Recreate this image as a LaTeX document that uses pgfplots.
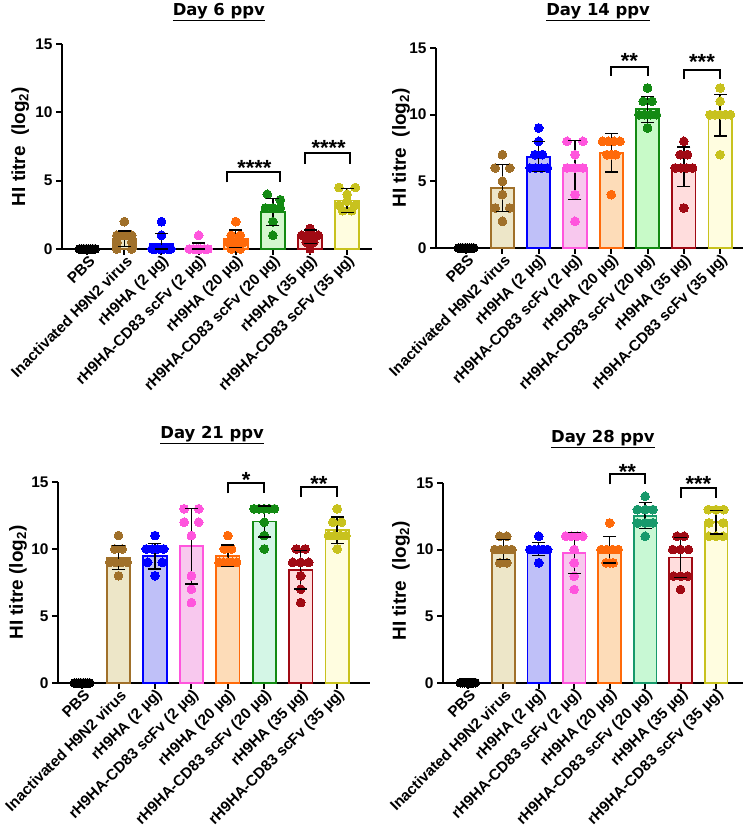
\documentclass[border=0pt]{standalone}
\usepackage{fontspec}
\setmainfont{Liberation Sans}
\newfontfamily\titlefont{DejaVu Sans}
\usepackage{pgfplots}
\pgfplotsset{compat=1.18}

\definecolor{brownE}{HTML}{A0702A}\definecolor{brownF}{HTML}{EDE6C8}
\definecolor{blueE}{HTML}{0000FF}\definecolor{blueF}{HTML}{BFC0F8}
\definecolor{pinkE}{HTML}{FF55DD}\definecolor{pinkF}{HTML}{F8C8EE}
\definecolor{orangeE}{HTML}{FF6A0A}\definecolor{orangeF}{HTML}{FDDCB8}
\definecolor{greenE}{HTML}{138A13}\definecolor{greenF}{HTML}{D4F8CE}
\definecolor{greenFb}{HTML}{C8FAC8}\definecolor{greenFc}{HTML}{D4F6E6}
\definecolor{tealE}{HTML}{17996B}\definecolor{tealF}{HTML}{C8F8D4}
\definecolor{redE}{HTML}{A00A14}\definecolor{redF}{HTML}{FFDDDD}
\definecolor{yellowE}{HTML}{C8C21E}\definecolor{yellowF}{HTML}{FFFDE0}

\newcommand{\lab}{\bfseries\fontsize{15.3}{15.3}\selectfont}
\newcommand{\tickf}{\bfseries\fontsize{15.5}{15.5}\selectfont}
\newcommand{\ylab}{\bfseries\fontsize{19}{19}\selectfont}
\newcommand{\ttl}{\titlefont\bfseries\fontsize{16.5}{16.5}\selectfont}
\newcommand{\astf}{\bfseries\fontsize{22}{22}\selectfont}

% group: x, mean, error low, error high, edge colour, fill colour, points (offset value rows)
\newcommand{\grp}[7]{%
  \addplot[ybar, bar width=0.64, bar shift=0pt, draw=#5, fill=#6, line width=1.8bp, forget plot] coordinates {(#1,#2)};
  \addplot[only marks, mark=*, mark size=4.4bp, mark options={draw=#5, fill=#5, line width=0pt}, forget plot]
    table[x expr=\thisrow{d}+#1, y=v, row sep=\\] {d v\\ #7};
  \addplot[black, line width=1.4bp, mark=none, forget plot] coordinates {(#1,#3) (#1,#4)};
  \addplot[only marks, mark=-, mark size=6.5bp, mark options={black, line width=1.4bp}, forget plot] coordinates {(#1,#3) (#1,#4)};
}
\newcommand{\pbs}{%
  \addplot[only marks, mark=*, mark size=4.4bp, mark options={draw=black, fill=black, line width=0pt}, forget plot]
    table[row sep=\\] {x y\\ -0.21 0\\ -0.15 0\\ -0.09 0\\ -0.03 0\\ 0.03 0\\ 0.09 0\\ 0.15 0\\ 0.21 0\\};
}

\pgfplotsset{
  hiaxis/.style={
    scale only axis, clip=false,
    axis x line=bottom, axis y line=left,
    axis line style={line width=2bp, -},
    ymin=0, ymax=15, ytick={0,5,10,15},
    xtick={0,...,7},
    xticklabels={{PBS},{Inactivated H9N2 virus},{rH9HA (2 µg)},{rH9HA-CD83 scFv (2 µg)},{rH9HA (20 µg)},{rH9HA-CD83 scFv (20 µg)},{rH9HA (35 µg)},{rH9HA-CD83 scFv (35 µg)}},
    tick align=outside, major tick length=6bp,
    tick style={line width=2bp, black},
    xticklabel style={rotate=45, anchor=east, font=\lab, inner sep=1bp, yshift=-6bp, xshift=2bp},
    yticklabel style={font=\tickf},
    /pgf/number format/assume math mode=true,
    ylabel style={anchor=center},
  }
}

\begin{document}
\begin{tikzpicture}
\path[use as bounding box] (0,0) rectangle (746bp,834bp);

% ---------------- Day 6 ----------------
\begin{axis}[hiaxis, at={(62bp,585bp)}, anchor=south west, width=310bp, height=205bp,
  xmin=-0.68, xmax=7.67,
  ylabel={\ylab HI titre\ \ (log\textsubscript{2})}, ylabel style={at={(axis description cs:-0.135,0.5)}}]
\node[font=\ttl, anchor=center] at (axis description cs:0.506,1.156) {\underline{Day 6 ppv}};
\pbs
\grp{1}{0.75}{0.17}{1.33}{brownE}{brownF}{0 2\\ -0.2 1\\ 0.2 1\\ 0 1\\ -0.2 0.5\\ 0.2 0.5\\ -0.2 0\\ 0.2 0\\}
\grp{2}{0.37}{0}{1.15}{blueE}{blueF}{0 2\\ 0 1\\ -0.25 0\\ -0.15 0\\ -0.05 0\\ 0.05 0\\ 0.15 0\\ 0.25 0\\}
\grp{3}{0.15}{0}{0.45}{pinkE}{pinkF}{0 1\\ -0.25 0\\ -0.15 0\\ -0.05 0\\ 0.05 0\\ 0.15 0\\ 0.25 0\\ 0 0\\}
\grp{4}{0.75}{0.11}{1.39}{orangeE}{orangeF}{0 2\\ -0.12 1\\ 0.12 1\\ -0.22 0.5\\ 0.22 0.5\\ 0 0.5\\ -0.12 0\\ 0.12 0\\}
\grp{5}{2.7}{1.7}{3.7}{greenE}{greenF}{-0.15 4\\ 0.2 3.6\\ -0.2 3\\ 0 3\\ 0.2 3\\ 0 2\\ 0 1\\}
\grp{6}{0.9}{0.42}{1.38}{redE}{redF}{0 1.5\\ -0.22 1\\ -0.08 1\\ 0.08 1\\ 0.22 1\\ -0.1 0.5\\ 0.1 0.5\\ 0 0\\}
\grp{7}{3.55}{2.68}{4.42}{yellowE}{yellowF}{-0.22 4.5\\ 0.22 4.5\\ 0 4\\ -0.22 3.2\\ 0.22 3.2\\ -0.12 2.8\\ 0.12 2.8\\ 0 3.5\\}
\draw[line width=2bp] (axis cs:3.77,4.87) -- (axis cs:3.77,5.6) -- (axis cs:5.2,5.6) -- (axis cs:5.2,4.87);
\node[font=\astf, anchor=north, inner sep=0pt] at (axis cs:4.5,6.5) {****};
\draw[line width=2bp] (axis cs:5.87,6.24) -- (axis cs:5.87,7.0) -- (axis cs:7.08,7.0) -- (axis cs:7.08,6.24);
\node[font=\astf, anchor=north, inner sep=0pt] at (axis cs:6.5,7.95) {****};
\end{axis}

% ---------------- Day 14 ----------------
\begin{axis}[hiaxis, at={(436bp,586bp)}, anchor=south west, width=307bp, height=200bp,
  xmin=-0.83, xmax=7.63,
  ylabel={\ylab HI titre\ \ (log\textsubscript{2})}, ylabel style={at={(axis description cs:-0.114,0.5)}}]
\node[font=\ttl, anchor=center] at (axis description cs:0.528,1.178) {\underline{Day 14 ppv}};
\pbs
\grp{1}{4.5}{2.72}{6.28}{brownE}{brownF}{0 7\\ -0.2 6\\ 0.2 6\\ 0 5\\ 0 4\\ -0.2 3\\ 0.2 3\\ 0 2\\}
\grp{2}{6.85}{5.72}{7.98}{blueE}{blueF}{0 9\\ 0 8\\ -0.1 7\\ 0.1 7\\ -0.24 6\\ -0.08 6\\ 0.08 6\\ 0.24 6\\}
\grp{3}{5.85}{3.65}{8.05}{pinkE}{pinkF}{-0.22 8\\ 0.22 8\\ 0 7\\ -0.22 6\\ 0.22 6\\ 0 6\\ 0 4\\ 0 2\\}
\grp{4}{7.15}{5.7}{8.6}{orangeE}{orangeF}{-0.24 8\\ -0.08 8\\ 0.08 8\\ 0.24 8\\ -0.12 7\\ 0.12 7\\ 0 7\\ 0 4\\}
\grp{5}{10.4}{9.43}{11.37}{greenE}{greenFb}{0 12\\ -0.12 11\\ 0.12 11\\ -0.24 10\\ -0.08 10\\ 0.08 10\\ 0.24 10\\ 0 9\\}
\grp{6}{6.1}{4.62}{7.58}{redE}{redF}{0 8\\ -0.1 7\\ 0.1 7\\ -0.24 6\\ -0.08 6\\ 0.08 6\\ 0.24 6\\ 0 3\\}
\grp{7}{9.95}{8.4}{11.5}{yellowE}{yellowF}{0 12\\ 0 11\\ -0.28 10\\ -0.14 10\\ 0 10\\ 0.14 10\\ 0.28 10\\ 0 7\\}
\draw[line width=2bp] (axis cs:4,12.9) -- (axis cs:4,13.6) -- (axis cs:5,13.6) -- (axis cs:5,12.9);
\node[font=\astf, anchor=north, inner sep=0pt] at (axis cs:4.5,14.6) {**};
\draw[line width=2bp] (axis cs:6,12.7) -- (axis cs:6,13.35) -- (axis cs:7,13.35) -- (axis cs:7,12.7);
\node[font=\astf, anchor=north, inner sep=0pt] at (axis cs:6.5,14.5) {***};
\end{axis}

% ---------------- Day 21 ----------------
\begin{axis}[hiaxis, at={(58bp,151bp)}, anchor=south west, width=312bp, height=201bp,
  xmin=-0.66, xmax=7.9,
  ylabel={\ylab HI titre (log\textsubscript{2})}, ylabel style={at={(axis description cs:-0.128,0.5)}}]
\node[font=\ttl, anchor=center] at (axis description cs:0.494,1.234) {\underline{Day 21 ppv}};
\pbs
\grp{1}{9.35}{8.45}{10.25}{brownE}{brownF}{0 11\\ -0.1 10\\ 0.1 10\\ -0.24 9\\ -0.08 9\\ 0.08 9\\ 0.24 9\\ 0 8\\}
\grp{2}{9.45}{8.5}{10.4}{blueE}{blueF}{0 11\\ -0.24 10\\ -0.08 10\\ 0.08 10\\ 0.24 10\\ -0.2 9\\ 0.2 9\\ 0 8\\}
\grp{3}{10.2}{7.38}{13.02}{pinkE}{pinkF}{-0.2 13\\ 0.2 13\\ -0.2 12\\ 0.2 12\\ 0 11\\ 0 8\\ 0 7\\ 0 6\\}
\grp{4}{9.5}{8.7}{10.3}{orangeE}{orangeF}{0 11\\ -0.1 10\\ 0.1 10\\ -0.24 9\\ -0.12 9\\ 0 9\\ 0.12 9\\ 0.24 9\\}
\grp{5}{12.05}{10.9}{13.2}{greenE}{greenFc}{-0.28 13\\ -0.14 13\\ 0 13\\ 0.14 13\\ 0.28 13\\ 0 12\\ 0 11\\ 0 10\\}
\grp{6}{8.45}{7.0}{9.9}{redE}{redF}{-0.12 10\\ 0.12 10\\ -0.22 9\\ 0 9\\ 0.22 9\\ 0 8\\ 0 7\\ 0 6\\}
\grp{7}{11.4}{10.42}{12.38}{yellowE}{yellowF}{0 13\\ -0.12 12\\ 0.12 12\\ -0.24 11\\ -0.08 11\\ 0.08 11\\ 0.24 11\\ 0 10\\}
\draw[line width=2bp] (axis cs:4,14.16) -- (axis cs:4,14.9) -- (axis cs:5,14.9) -- (axis cs:5,14.16);
\node[font=\astf, anchor=north, inner sep=0pt] at (axis cs:4.5,15.7) {*};
\draw[line width=2bp] (axis cs:6,13.9) -- (axis cs:6,14.65) -- (axis cs:7,14.65) -- (axis cs:7,13.9);
\node[font=\astf, anchor=north, inner sep=0pt] at (axis cs:6.5,15.45) {**};
\end{axis}

% ---------------- Day 28 ----------------
\begin{axis}[hiaxis, at={(443bp,151.3bp)}, anchor=south west, width=300bp, height=199.7bp,
  xmin=-0.7, xmax=7.76,
  ylabel={\ylab HI titre\ \ (log\textsubscript{2})}, ylabel style={at={(axis description cs:-0.14,0.51)}}]
\node[font=\ttl, anchor=center] at (axis description cs:0.533,1.22) {\underline{Day 28 ppv}};
\pbs
\grp{1}{10}{9.25}{10.75}{brownE}{brownF}{-0.1 11\\ 0.1 11\\ -0.24 10\\ -0.08 10\\ 0.08 10\\ 0.24 10\\ -0.1 9\\ 0.1 9\\}
\grp{2}{10.05}{9.55}{10.55}{blueE}{blueF}{0 11\\ -0.25 10\\ -0.12 10\\ 0 10\\ 0.12 10\\ 0.25 10\\ 0 9\\}
\grp{3}{9.75}{8.2}{11.3}{pinkE}{pinkF}{-0.24 11\\ -0.08 11\\ 0.08 11\\ 0.24 11\\ 0 10\\ 0 9\\ 0 8\\ 0 7\\}
\grp{4}{10}{9.0}{11.0}{orangeE}{orangeF}{0 12\\ -0.24 10\\ -0.08 10\\ 0.08 10\\ 0.24 10\\ -0.1 9\\ 0.1 9\\ 0 9\\}
\grp{5}{12.55}{11.57}{13.53}{tealE}{tealF}{0 14\\ -0.22 13\\ 0 13\\ 0.22 13\\ -0.22 12\\ 0 12\\ 0.22 12\\ 0 11\\}
\grp{6}{9.4}{7.9}{10.9}{redE}{redF}{-0.1 11\\ 0.1 11\\ -0.22 10\\ 0 10\\ 0.22 10\\ -0.2 8\\ 0 8\\ 0.2 8\\ 0 7\\}
\grp{7}{12.05}{11.17}{12.93}{yellowE}{yellowF}{-0.22 13\\ 0 13\\ 0.22 13\\ -0.2 12\\ 0.2 12\\ -0.2 11\\ 0 11\\ 0.2 11\\}
\draw[line width=2bp] (axis cs:4,14.9) -- (axis cs:4,15.66) -- (axis cs:5,15.66) -- (axis cs:5,14.9);
\node[font=\astf, anchor=north, inner sep=0pt] at (axis cs:4.5,16.4) {**};
\draw[line width=2bp] (axis cs:6,13.9) -- (axis cs:6,14.66) -- (axis cs:7,14.66) -- (axis cs:7,13.9);
\node[font=\astf, anchor=north, inner sep=0pt] at (axis cs:6.5,15.5) {***};
\end{axis}
\end{tikzpicture}
\end{document}
